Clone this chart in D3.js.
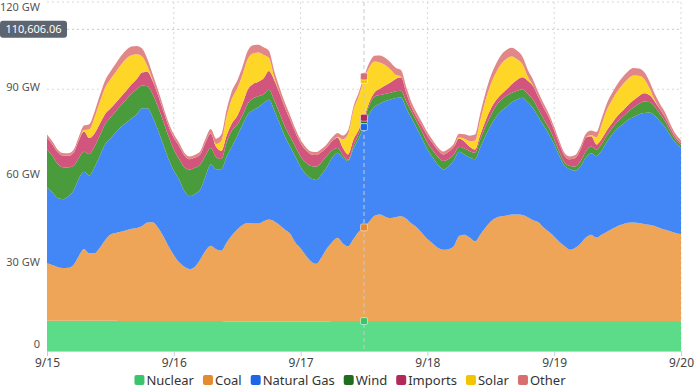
<!DOCTYPE html>
<html>
<head>
<meta charset="utf-8">
<script src="https://cdn.jsdelivr.net/npm/d3@7"></script>
<style>
  body { margin: 0; background: #fff; }
  svg { display: block; font-family: "Noto Sans", "Open Sans", sans-serif; }
</style>
</head>
<body>
<svg id="chart" width="700" height="392"></svg>
<script>
// hourly generation, GW, from 9/15 00:00 to 9/20 00:00 (121 points)
var startTime = new Date(2024, 8, 15, 0, 0);
var dayLabels = ["9/15", "9/16", "9/17", "9/18", "9/19", "9/20"];
var yTicks = [0, 30, 60, 90, 120];
var seriesNames = ["Nuclear", "Coal", "Natural Gas", "Wind", "Imports", "Solar", "Other"];

var nuclear = [
  10.4,10.4,10.4,10.4,10.4,10.4,10.4,10.4,10.4,10.4,10.4,10.4,10.4,10.4,10.3,10.3,10.3,10.3,10.3,10.3,10.3,10.3,10.3,10.3,
  10.3,10.3,10.3,10.3,10.3,10.3,10.3,10.3,10.3,10.3,10.1,10.1,10.1,10.1,10.1,10.1,10.1,10.1,10.1,10.1,10.1,10.1,10.1,10.1,
  10.1,10.1,10.1,10.1,10.1,10.1,10.3,10.3,10.3,10.3,10.3,10.3,10.3,10.3,10.3,10.3,10.3,10.3,10.3,10.3,10.3,10.3,10.3,10.3,
  10.3,10.3,10.3,10.3,10.3,10.3,10.3,10.3,10.3,10.3,10.3,10.3,10.3,10.3,10.3,10.3,10.3,10.3,10.3,10.3,10.3,10.3,10.3,10.3,
  10.3,10.3,10.3,10.3,10.3,10.3,10.3,10.3,10.3,10.3,10.3,10.3,10.3,10.3,10.3,10.3,10.3,10.3,10.3,10.3,10.3,10.3,10.3,10.3,
  10.2
];
var coal = [
  19.9,19.2,18.5,18.1,18.2,19.2,22.2,24.7,23.2,23.2,25.1,27.7,29.7,30.2,30.7,31.2,31.7,32.0,32.7,33.9,34.0,32.2,29.2,25.7,
  22.7,20.2,18.7,17.9,18.7,21.2,24.2,25.9,24.7,24.2,27.2,29.7,31.7,33.2,33.9,33.7,33.7,34.5,35.1,34.5,33.2,31.7,30.3,27.2,
  25.2,22.7,20.7,19.9,22.2,25.2,27.2,28.6,26.7,25.7,28.2,30.7,32.2,34.2,36.2,36.6,35.9,35.4,35.7,36.0,35.2,33.5,32.2,30.2,
  28.2,26.7,25.2,24.5,24.7,25.7,29.2,29.7,28.7,27.4,29.7,32.2,34.2,35.5,36.0,36.3,36.6,36.6,36.5,35.7,34.7,34.0,32.2,30.7,
  29.1,27.2,25.7,24.5,25.2,26.7,28.7,29.7,28.7,29.7,30.7,31.7,32.7,33.3,33.8,33.9,33.7,33.4,33.1,32.7,32.0,31.4,30.9,30.3,
  30.0
];
var naturalGas = [
  25.9,25.0,23.7,23.7,24.5,25.5,26.5,26.5,26.7,29.5,31.6,33.0,33.0,34.5,36.0,37.0,38.0,39.1,40.5,39.3,36.2,33.5,31.5,30.0,
  29.0,28.5,26.0,25.0,25.0,24.0,25.5,27.9,27.5,28.0,29.5,30.5,32.0,34.5,37.3,39.0,40.0,40.7,41.2,38.2,35.0,32.0,29.9,29.5,
  28.0,28.0,28.5,28.8,28.5,28.0,29.0,29.3,29.5,29.3,31.0,32.0,34.5,37.0,37.5,38.1,39.8,40.8,41.0,40.9,38.0,36.2,34.0,32.5,
  30.8,29.5,28.5,27.6,28.5,29.5,29.0,27.6,27.5,28.2,30.0,31.5,33.0,34.7,36.2,37.4,38.6,39.6,40.3,39.5,38.5,36.2,35.0,33.5,
  31.6,29.5,27.6,27.7,26.5,26.5,27.5,28.0,28.0,29.0,31.0,32.5,33.5,34.4,35.4,36.3,37.3,38.1,38.6,38.0,36.7,35.3,32.8,30.9,
  29.7
];
var wind = [
  13.2,12.5,11.8,11.0,10.0,8.5,7.2,6.9,7.4,7.2,7.0,6.9,7.1,7.3,7.5,8.0,8.5,8.6,7.8,7.5,7.8,8.0,8.0,7.8,
  7.3,7.0,8.2,9.2,9.0,8.6,7.2,5.7,4.2,3.5,5.0,5.5,4.0,3.2,3.8,4.0,3.8,3.0,3.4,3.5,3.5,3.5,3.5,3.4,
  3.6,4.0,4.3,4.6,4.2,3.8,2.5,1.6,0.8,0.5,1.0,1.6,2.4,3.0,3.5,3.0,2.4,2.3,2.3,2.3,2.3,2.3,2.3,2.3,
  2.3,2.5,2.7,2.9,2.5,2.0,1.7,2.0,2.2,2.3,2.8,3.2,3.5,3.8,4.0,3.8,3.3,3.0,2.9,2.9,2.9,2.6,2.3,2.2,
  1.8,1.4,1.1,1.1,1.4,1.8,2.2,2.3,2.3,2.3,2.2,2.2,2.4,2.6,2.8,3.2,3.6,4.0,3.6,3.1,2.6,2.0,1.5,1.1,
  1.0
];
var imports = [
  4.0,4.0,4.0,4.0,4.0,4.5,6.0,7.0,5.5,4.5,4.0,3.5,3.2,3.0,2.9,3.0,3.2,3.5,4.5,5.0,4.5,4.0,3.6,3.5,
  4.0,4.5,4.0,3.5,3.5,3.5,4.5,5.0,3.5,2.8,2.3,2.5,3.0,4.0,4.8,5.0,5.0,5.5,6.5,6.9,6.9,6.5,5.8,5.0,
  4.5,4.2,4.0,4.0,3.5,3.0,3.2,3.5,2.5,1.8,2.2,1.5,0.8,1.0,1.5,2.2,2.9,3.5,4.2,4.6,3.0,1.5,1.5,2.0,
  2.4,2.4,2.3,2.3,2.5,2.7,2.9,2.4,1.5,1.1,1.5,2.0,2.3,2.0,1.8,2.2,3.0,3.8,4.1,4.5,4.7,4.2,3.8,3.5,
  3.0,2.6,2.3,2.3,3.0,4.0,4.7,3.5,1.7,1.7,1.8,1.8,2.0,2.1,2.3,2.5,2.7,2.8,2.4,1.8,1.5,1.3,1.1,0.8,
  0.5
];
var solar = [
  0,0,0,0,0,0,0,0.5,3,5.5,7.5,9,10,10.5,11,11,10,8.5,5.5,2,0.3,0,0,0,
  0,0,0,0,0,0,0,0,1,3.5,6.5,8.5,9.5,10,10.5,10.5,10,8,4.5,1,0,0,0,0,
  0,0,0,0,0,0,0,0.3,3,7,10,11.5,13,12,10.5,9,7,4.5,1.5,0.3,0,0,0,0,
  0,0,0,0,0,0,0.3,1,2,3,5,7,8.5,9.5,10.5,10.5,9.5,7,4.5,1.5,0.2,0,0,0,
  0,0,0,0,0,0,0,0.5,2.5,5,7,8,8.5,9,9,8.5,7,5,2.5,0.5,0,0,0,0,
  0
];
var other = [
  1.0,1.0,0.9,0.9,0.9,1.0,1.2,1.5,1.8,2.0,2.3,2.5,2.7,2.9,3.0,3.0,3.0,2.9,2.7,2.4,2.1,1.8,1.5,1.3,
  1.2,1.1,1.0,1.0,1.0,1.1,1.3,1.5,1.8,2.1,2.4,2.6,2.6,2.7,2.8,2.8,2.7,2.6,2.4,2.2,2.0,1.7,1.5,1.3,
  1.2,1.1,1.0,1.0,1.0,1.1,1.3,1.4,1.3,1.3,1.3,1.3,1.2,1.5,2.0,2.4,2.5,2.5,2.4,2.2,2.0,1.7,1.5,1.3,
  1.2,1.1,1.0,1.0,1.0,1.1,1.3,1.5,1.8,2.1,2.4,2.6,2.8,3.0,3.1,3.1,3.0,2.9,2.6,2.3,2.0,1.7,1.5,1.3,
  1.2,1.1,1.0,1.0,1.0,1.1,1.3,1.5,1.8,2.1,2.3,2.4,2.5,2.6,2.6,2.6,2.5,2.4,2.3,2.1,1.9,1.7,1.4,1.2,
  1.1
];

// crosshair state shown in the picture
var hoverIndex = 60;
var hoverValue = 110606.06; // MW, y-axis crosshair label

var fillColors = ["#5cdc89", "#eea558", "#4287f5", "#4a9b3c", "#d2557d", "#fdd628", "#e28787"];
var legendColors = ["#3cc46c", "#e58a30", "#1d66e8", "#1f6e1f", "#b2295a", "#f5c400", "#d76f6f"];

var seriesValues = [nuclear, coal, naturalGas, wind, imports, solar, other];

var rows = nuclear.map(function(v, i) {
  var row = { time: d3.timeHour.offset(startTime, i) };
  seriesNames.forEach(function(name, k) { row[name] = seriesValues[k][i]; });
  return row;
});

var svg = d3.select("#chart");
var plot = { left: 47, right: 681, top: 2, bottom: 351 };

var x = d3.scaleTime()
  .domain([startTime, d3.timeDay.offset(startTime, dayLabels.length - 1)])
  .range([plot.left, plot.right]);
var y = d3.scaleLinear().domain([0, 120]).range([plot.bottom, plot.top]);

var dayTicks = dayLabels.map(function(d, i) { return d3.timeDay.offset(startTime, i); });

// grid
var grid = svg.append("g");
grid.selectAll("line.h")
  .data(yTicks.filter(function(t) { return t > 0; }))
  .enter().append("line")
  .attr("x1", plot.left).attr("x2", plot.right)
  .attr("y1", function(d) { return y(d); }).attr("y2", function(d) { return y(d); })
  .style("stroke", "#d8d8d8").style("stroke-dasharray", "2,3");
grid.selectAll("line.v")
  .data(dayTicks.slice(1))
  .enter().append("line")
  .attr("x1", function(d) { return x(d); }).attr("x2", function(d) { return x(d); })
  .attr("y1", plot.top).attr("y2", plot.bottom)
  .style("stroke", "#d8d8d8").style("stroke-dasharray", "2,3");

// stacked areas
var stack = d3.stack().keys(seriesNames);
var layers = stack(rows);

var area = d3.area()
  .curve(d3.curveMonotoneX)
  .x(function(d) { return x(d.data.time); })
  .y0(function(d) { return y(d[0]); })
  .y1(function(d) { return y(d[1]); });

svg.append("g").selectAll("path")
  .data(layers)
  .enter().append("path")
  .attr("d", area)
  .attr("fill", function(d, i) { return fillColors[i]; });

// x axis
var xAxis = svg.append("g")
  .attr("transform", "translate(0," + plot.bottom + ")")
  .call(d3.axisBottom(x).tickValues(dayTicks)
    .tickFormat(function(d, i) { return dayLabels[i]; })
    .tickSize(5).tickPadding(2));
xAxis.select(".domain").style("stroke", "#c8cfdc");
xAxis.selectAll(".tick line").style("stroke", "#c8cfdc");
xAxis.selectAll("text").style("font-size", "12px").style("fill", "#444")
  .style("font-family", "\"Noto Sans\", sans-serif");

// y labels
svg.append("g").selectAll("text")
  .data(yTicks)
  .enter().append("text")
  .attr("x", 40)
  .attr("y", function(d) { return Math.min(Math.max(y(d) - 2, 7.5), plot.bottom - 7); })
  .attr("dy", "0.35em")
  .attr("text-anchor", "end")
  .style("font-size", "11px")
  .style("fill", "#555")
  .text(function(d) { return d === 0 ? "0" : d + " GW"; });

// crosshair
var hx = x(rows[hoverIndex].time);
svg.append("line")
  .attr("x1", hx).attr("x2", hx).attr("y1", plot.top).attr("y2", plot.bottom)
  .style("stroke", "#c4c9d4").style("stroke-dasharray", "4,3");
var hy = y(hoverValue / 1000);
svg.append("line")
  .attr("x1", 67).attr("x2", plot.right).attr("y1", hy).attr("y2", hy)
  .style("stroke", "#c8c8c8").style("stroke-dasharray", "2,3");

svg.append("g").selectAll("rect")
  .data(layers)
  .enter().append("rect")
  .attr("x", hx - 3.5)
  .attr("y", function(d) { return y(d[hoverIndex][1]) - 3.5; })
  .attr("width", 7).attr("height", 7)
  .attr("rx", 1.5)
  .attr("fill", function(d, i) { return legendColors[i]; })
  .attr("stroke", "#fff").attr("stroke-opacity", 0.5).attr("stroke-width", 1);

var tip = svg.append("g");
tip.append("rect")
  .attr("x", 0).attr("y", hy - 8.5).attr("width", 67).attr("height", 17)
  .attr("rx", 3).attr("fill", "#5d6570");
tip.append("text")
  .attr("x", 33.5).attr("y", hy).attr("dy", "0.35em")
  .attr("text-anchor", "middle")
  .style("font-size", "11px").style("fill", "#fff")
  .text(d3.format(",.2f")(hoverValue));

// legend
var legend = svg.append("g").attr("transform", "translate(0,380)");
var items = legend.selectAll("g")
  .data(seriesNames)
  .enter().append("g");
items.append("rect")
  .attr("x", 0).attr("y", -5).attr("width", 10).attr("height", 10).attr("rx", 2)
  .attr("fill", function(d, i) { return legendColors[i]; });
items.append("text")
  .attr("x", 12).attr("dy", "0.35em")
  .style("font-size", "13px").style("fill", "#333")
  .text(function(d) { return d; });

var pos = 0;
var offsets = [];
items.each(function() {
  offsets.push(pos);
  pos += 12 + d3.select(this).select("text").node().getComputedTextLength() + 9;
});
var totalWidth = pos - 9;
var startX = 350 - totalWidth / 2;
items.attr("transform", function(d, i) { return "translate(" + (startX + offsets[i]) + ",0)"; });
</script>
</body>
</html>
